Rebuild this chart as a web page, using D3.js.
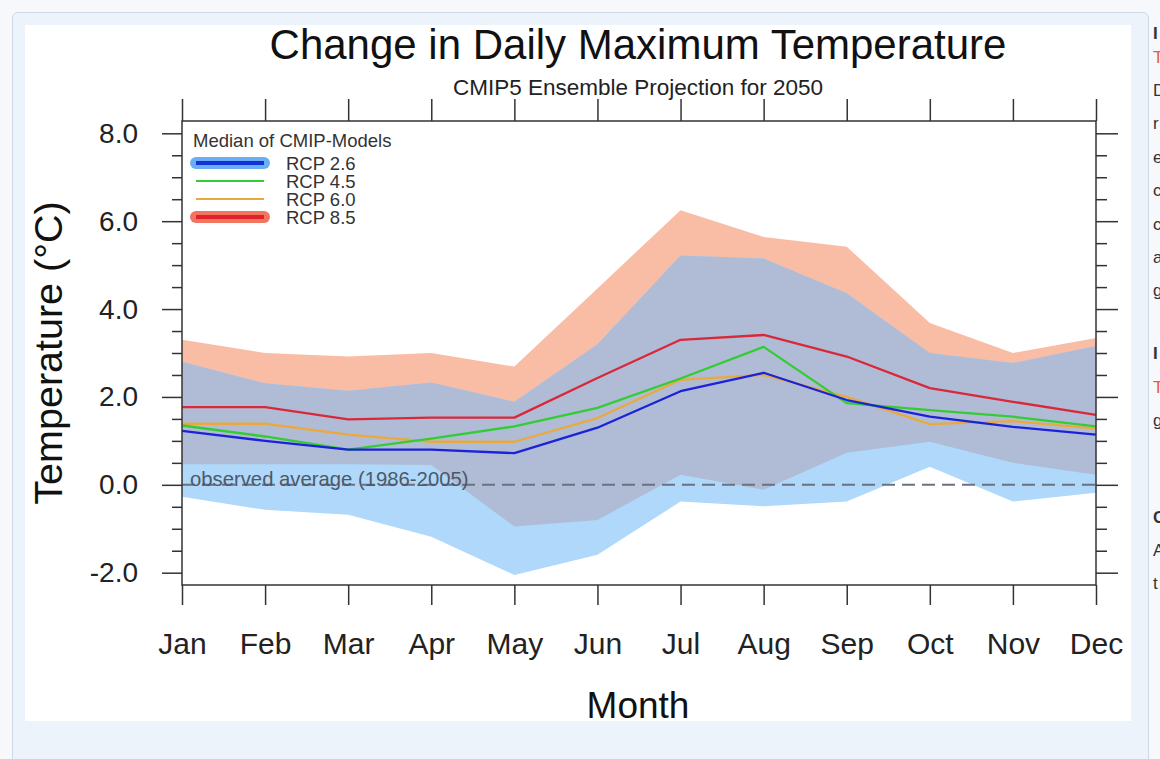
<!DOCTYPE html>
<html>
<head>
<meta charset="utf-8">
<script src="https://cdn.jsdelivr.net/npm/d3@7"></script>
<style>
  body { margin:0; width:1160px; height:759px; overflow:hidden; background:#f6f8fb;
         font-family:"Liberation Sans", Arial, Helvetica, sans-serif; position:relative; }
  #panel { position:absolute; left:12px; top:12px; width:1135px; height:780px;
           background:#ecf3fb; border:1px solid #cdd9e5; border-radius:6px; }
  #plot { position:absolute; left:25px; top:25px; width:1106px; height:696px; background:#fff; }
  #chart { position:absolute; left:0; top:0; }
</style>
</head>
<body>
<div id="panel"></div>
<div id="plot"></div>
<div id="chart"></div>
<script>
// values (deg C change)
var months = ["Jan","Feb","Mar","Apr","May","Jun","Jul","Aug","Sep","Oct","Nov","Dec"];
var rcp26 = [1.23, 1.00, 0.80, 0.80, 0.72, 1.30, 2.13, 2.55, 1.93, 1.55, 1.32, 1.14];
var rcp45 = [1.35, 1.10, 0.80, 1.05, 1.33, 1.75, 2.42, 3.14, 1.86, 1.70, 1.55, 1.33];
var rcp60 = [1.39, 1.39, 1.14, 0.98, 0.98, 1.52, 2.39, 2.50, 2.00, 1.38, 1.45, 1.28];
var rcp85 = [1.77, 1.77, 1.49, 1.53, 1.53, 2.43, 3.30, 3.41, 2.92, 2.20, 1.89, 1.59];
// model spread
var rcp26Low  = [-0.27, -0.57, -0.68, -1.18, -2.05, -1.59, -0.38, -0.49, -0.38, 0.41, -0.38, -0.18];
var rcp26High = [2.80, 2.31, 2.14, 2.33, 1.89, 3.20, 5.22, 5.15, 4.36, 3.00, 2.77, 3.16];
var rcp85Low  = [0.47, 0.47, 0.47, 0.45, -0.95, -0.80, 0.23, -0.11, 0.73, 0.98, 0.50, 0.23];
var rcp85High = [3.30, 3.00, 2.92, 3.00, 2.69, 4.47, 6.25, 5.64, 5.42, 3.68, 3.00, 3.34];
var yTicks = [-2, 0, 2, 4, 6, 8];
var seriesNames = ["RCP 2.6", "RCP 4.5", "RCP 6.0", "RCP 8.5"];
var sideLetters = [["I",33,"b"],["T",57,"r"],["D",90,""],["r",123,""],["e",157,""],["c",190,""],["c",224,""],
                   ["a",257,""],["g",290,""],["I",353,"b"],["T",387,"r"],["g",420,""],["C",517,"b"],["A",550,""],["t",583,""]];

var svg = d3.select("#chart").append("svg")
    .attr("width", 1160)
    .attr("height", 759);

var pL = 182, pR = 1096, pT = 121, pB = 585;

var x = d3.scalePoint().domain(months).range([pL, pR]);
var y = d3.scaleLinear().domain([-2.28, 8.28]).range([pB, pT]);

svg.append("clipPath").attr("id", "clip")
  .append("rect").attr("x", pL).attr("y", pT).attr("width", pR - pL).attr("height", pB - pT);

var g = svg.append("g").attr("clip-path", "url(#clip)");

var idx = d3.range(months.length);
function band(lo, hi) {
  return d3.area()
    .x(function(i) { return x(months[i]); })
    .y0(function(i) { return y(lo(i)); })
    .y1(function(i) { return y(hi(i)); })(idx);
}

// rcp 8.5 spread (salmon), rcp 2.6 spread (light blue), overlap (grey-blue)
g.append("path").attr("d", band(function(i){return rcp85Low[i];}, function(i){return rcp85High[i];}))
  .attr("fill", "#f9bca4");
g.append("path").attr("d", band(function(i){return rcp26Low[i];}, function(i){return rcp26High[i];}))
  .attr("fill", "#afd8fa");
g.append("path").attr("d", band(function(i){return Math.max(rcp26Low[i], rcp85Low[i]);},
                                 function(i){return Math.min(rcp26High[i], rcp85High[i]);}))
  .attr("fill", "#b0bcd5");

// observed average line
g.append("line")
  .attr("x1", pL).attr("x2", pR)
  .attr("y1", y(0)).attr("y2", y(0))
  .attr("stroke", "#6a7282").attr("stroke-width", 2)
  .attr("stroke-dasharray", "13,7");

g.append("text")
  .attr("x", 190).attr("y", y(0) + 1)
  .attr("font-size", 20.3)
  .attr("fill", "#4e5868")
  .text("observed average (1986-2005)");

var line = d3.line()
  .x(function(d, i) { return x(months[i]); })
  .y(function(d) { return y(d); });

var series = [
  {name: seriesNames[0], values: rcp26, color: "#1c22d8"},
  {name: seriesNames[1], values: rcp45, color: "#33cc33"},
  {name: seriesNames[2], values: rcp60, color: "#e9a93e"},
  {name: seriesNames[3], values: rcp85, color: "#d8283a"}
];

// draw order: 8.5, 6.0, 4.5, 2.6 on top
[3, 2, 1, 0].forEach(function(k) {
  g.append("path")
    .attr("d", line(series[k].values))
    .attr("fill", "none")
    .attr("stroke", series[k].color)
    .attr("stroke-width", 2.3)
    .attr("stroke-linejoin", "round");
});

// legend
var leg = svg.append("g");
leg.append("text").attr("x", 193).attr("y", 147)
  .attr("font-size", 18.5).attr("fill", "#333").text("Median of CMIP-Models");

var halo = ["#6aaef6", null, null, "#f2745e"];
series.forEach(function(s, i) {
  var ly = 163 + i * 18;
  if (halo[i]) {
    leg.append("line").attr("x1", 196).attr("x2", 264).attr("y1", ly).attr("y2", ly)
      .attr("stroke", halo[i]).attr("stroke-width", 12).attr("stroke-linecap", "round");
    leg.append("line").attr("x1", 196).attr("x2", 264).attr("y1", ly).attr("y2", ly)
      .attr("stroke", i == 0 ? "#1530d8" : "#e0202a").attr("stroke-width", 4);
  } else {
    leg.append("line").attr("x1", 196).attr("x2", 264).attr("y1", ly).attr("y2", ly)
      .attr("stroke", s.color).attr("stroke-width", 2);
  }
  leg.append("text").attr("x", 286).attr("y", ly + 7)
    .attr("font-size", 18.5).attr("fill", "#333").text(s.name);
});

// axes
function styleAxis(sel) {
  sel.select(".domain").remove();
  sel.selectAll(".tick line").attr("stroke", "#333").attr("stroke-width", 1.5);
  sel.selectAll("text").attr("fill", "#222").attr("font-family", "Liberation Sans, Arial, sans-serif");
}
var minor = d3.range(-2, 8.01, 0.5).filter(function(v) { return v % 2 != 0; });

svg.append("g").attr("transform", "translate(" + pL + ",0)")
  .call(d3.axisLeft(y).tickValues(yTicks).tickSize(20).tickPadding(24)
        .tickFormat(function(d) { return d.toFixed(1); }))
  .call(styleAxis)
  .selectAll("text").attr("font-size", 28);
svg.append("g").attr("transform", "translate(" + pL + ",0)")
  .call(d3.axisLeft(y).tickValues(minor).tickSize(10).tickFormat(""))
  .call(styleAxis);
svg.append("g").attr("transform", "translate(" + pR + ",0)")
  .call(d3.axisRight(y).tickValues(yTicks).tickSize(22).tickFormat(""))
  .call(styleAxis);
svg.append("g").attr("transform", "translate(" + pR + ",0)")
  .call(d3.axisRight(y).tickValues(minor).tickSize(11).tickFormat(""))
  .call(styleAxis);
svg.append("g").attr("transform", "translate(0," + pT + ")")
  .call(d3.axisTop(x).tickSize(22).tickFormat(""))
  .call(styleAxis);
svg.append("g").attr("transform", "translate(0," + pB + ")")
  .call(d3.axisBottom(x).tickSize(20).tickPadding(28))
  .call(styleAxis)
  .selectAll("text").attr("font-size", 30);

svg.append("rect")
  .attr("x", pL).attr("y", pT).attr("width", pR - pL).attr("height", pB - pT)
  .attr("fill", "none").attr("stroke", "#333").attr("stroke-width", 1.5);

// titles
svg.append("text").attr("x", 638).attr("y", 59).attr("text-anchor", "middle")
  .attr("font-size", 42).attr("fill", "#111").text("Change in Daily Maximum Temperature");
svg.append("text").attr("x", 638).attr("y", 95).attr("text-anchor", "middle")
  .attr("font-size", 22.5).attr("fill", "#222").text("CMIP5 Ensemble Projection for 2050");
svg.append("text").attr("x", 638).attr("y", 718).attr("text-anchor", "middle")
  .attr("font-size", 37).attr("fill", "#111").text("Month");
svg.append("text").attr("transform", "translate(62," + ((pT + pB) / 2) + ") rotate(-90)")
  .attr("text-anchor", "middle")
  .attr("font-size", 39.5).attr("fill", "#111").text("Temperature (\u00b0C)");

// text column of the page, cut by the window edge
svg.selectAll(".side").data(sideLetters).enter().append("text")
  .attr("x", 1153).attr("y", function(d) { return d[1] + 6; })
  .attr("font-size", 17)
  .attr("font-weight", function(d) { return d[2] == "b" ? "bold" : "normal"; })
  .attr("fill", function(d) { return d[2] == "r" ? "#e0603a" : "#333"; })
  .text(function(d) { return d[0]; });
</script>
</body>
</html>
